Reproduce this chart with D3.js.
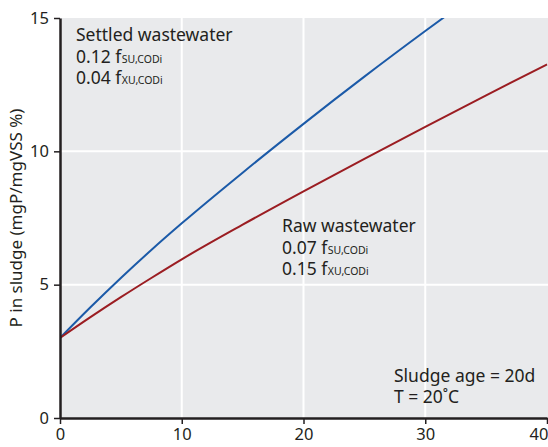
<!DOCTYPE html>
<html>
<head>
<meta charset="utf-8">
<script src="https://cdn.jsdelivr.net/npm/d3@7"></script>
<style>
  html, body { margin: 0; padding: 0; background: #fff; }
  svg { display: block; }
  text { font-family: "Noto Sans", "Open Sans", sans-serif; fill: #231f20; }
</style>
</head>
<body>
<svg id="chart" width="548" height="447"></svg>
<script>
// Sludge age (d) at which phosphorus content is evaluated
const sludgeAge = [0, 2.5, 5, 7.5, 10, 15, 20, 25, 30, 32];
const sludgeAgeRaw = [0, 2.5, 5, 7.5, 10, 15, 20, 25, 30, 35, 40];
// P in sludge (mgP/mgVSS %)
const settledP = [3.0, 4.15, 5.25, 6.3, 7.3, 9.2, 11.03, 12.8, 14.51, 15.18];
const rawP = [3.0, 3.78, 4.53, 5.25, 5.95, 7.25, 8.5, 9.72, 10.92, 12.1, 13.26];

const xTicks = [0, 10, 20, 30, 40];
const yTicks = [0, 5, 10, 15];

const svg = d3.select("#chart");
const plotLeft = 60, plotRight = 547, plotTop = 18, plotBottom = 418;

const x = d3.scaleLinear().domain([0, 40]).range([plotLeft, plotRight]);
const y = d3.scaleLinear().domain([0, 15]).range([plotBottom, plotTop]);

// plot background
svg.append("rect")
  .attr("x", plotLeft).attr("y", plotTop)
  .attr("width", 548 - plotLeft).attr("height", plotBottom - plotTop)
  .attr("fill", "#e9eaec");

// white grid
const grid = svg.append("g").attr("stroke", "#fff").attr("stroke-width", 2);
grid.selectAll("line.v").data(xTicks.filter(d => d > 0 && d < 40)).join("line")
  .attr("x1", d => x(d)).attr("x2", d => x(d))
  .attr("y1", plotTop).attr("y2", plotBottom);
grid.selectAll("line.h").data(yTicks.filter(d => d > 0 && d < 15)).join("line")
  .attr("x1", plotLeft).attr("x2", 548)
  .attr("y1", d => y(d)).attr("y2", d => y(d));

// clip curves to the plot area
svg.append("clipPath").attr("id", "plot")
  .append("rect").attr("x", plotLeft).attr("y", plotTop)
  .attr("width", 548 - plotLeft).attr("height", plotBottom - plotTop);

const line = d3.line().curve(d3.curveMonotoneX);
const curves = svg.append("g").attr("clip-path", "url(#plot)").attr("fill", "none").attr("stroke-width", 2);
curves.append("path")
  .attr("d", line(sludgeAge.map((d, i) => [x(d), y(settledP[i])])))
  .attr("stroke", "#1b5aa8");
curves.append("path")
  .attr("d", line(sludgeAgeRaw.map((d, i) => [x(d), y(rawP[i])])))
  .attr("stroke", "#9b1d22");

// axes
const xAxis = svg.append("g").attr("transform", `translate(0,${plotBottom})`)
  .call(d3.axisBottom(x).tickValues(xTicks).tickSize(6).tickPadding(4).tickSizeOuter(0));
const yAxis = svg.append("g").attr("transform", `translate(${plotLeft},0)`)
  .call(d3.axisLeft(y).tickValues(yTicks).tickSize(6).tickPadding(5).tickSizeOuter(0));
[xAxis, yAxis].forEach(g => {
  g.select(".domain").attr("stroke", "#231f20").attr("stroke-width", 2.5);
  g.selectAll(".tick line").attr("stroke", "#231f20").attr("stroke-width", 1.5);
  g.selectAll(".tick text").attr("font-size", 16.5).attr("fill", "#231f20")
    .attr("font-family", "\"Noto Sans\", sans-serif");
});
// 40 is tucked against the right edge
xAxis.selectAll(".tick text").filter(d => d === 40).attr("text-anchor", "end").attr("dx", 1);

// y axis title
svg.append("text")
  .attr("transform", `translate(22,${(plotTop + plotBottom) / 2}) rotate(-90)`)
  .attr("text-anchor", "middle")
  .attr("font-size", 17)
  .text("P in sludge (mgP/mgVSS %)");

// annotation blocks
function fracLine(xp, yp, value, sub) {
  const t = svg.append("text").attr("x", xp).attr("y", yp).attr("font-size", 17.5);
  t.append("tspan").text(value + " f");
  t.append("tspan").attr("dx", 0.5).attr("font-size", 10.5).text(sub);
}
svg.append("text").attr("x", 76).attr("y", 41).attr("font-size", 17.5).text("Settled wastewater");
fracLine(76, 63, "0.12", "SU,CODi");
fracLine(76, 84, "0.04", "XU,CODi");

svg.append("text").attr("x", 282).attr("y", 232).attr("font-size", 17.5).text("Raw wastewater");
fracLine(282, 254, "0.07", "SU,CODi");
fracLine(282, 275, "0.15", "XU,CODi");

svg.append("text").attr("x", 394).attr("y", 382).attr("font-size", 17.5).text("Sludge age = 20d");
svg.append("text").attr("x", 394).attr("y", 403).attr("font-size", 17.5).text("T = 20˚C");
</script>
</body>
</html>
